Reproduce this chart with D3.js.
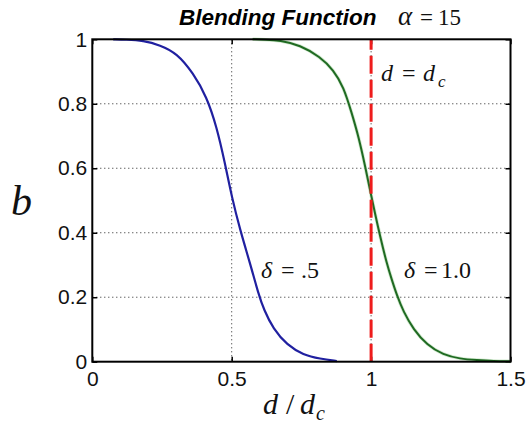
<!DOCTYPE html>
<html>
<head>
<meta charset="utf-8">
<script src="https://cdn.jsdelivr.net/npm/d3@7"></script>
<style>
  html, body { margin: 0; padding: 0; background: #fff; }
  svg { display: block; }
  .tick text { font-family: "Liberation Sans", Arial, sans-serif; font-size: 21px; fill: #111; }
  .serif { font-family: "Liberation Serif", "Times New Roman", serif; fill: #111; }
</style>
</head>
<body>
<script>
// Blending function b(d/dc) for two values of delta, alpha = 15
const blueX = [0.075, 0.12, 0.183, 0.243, 0.303, 0.362, 0.410, 0.446, 0.476, 0.500, 0.530, 0.566, 0.596, 0.616, 0.649, 0.698, 0.757, 0.817, 0.877];
const blueB = [1.000, 0.999, 0.996, 0.982, 0.957, 0.895, 0.822, 0.729, 0.615, 0.512, 0.409, 0.305, 0.210, 0.160, 0.102, 0.052, 0.021, 0.009, 0.002];

const greenX = [0.575, 0.62, 0.673, 0.745, 0.817, 0.865, 0.901, 0.931, 0.955, 0.979, 0.996, 1.014, 1.032, 1.056, 1.074, 1.092, 1.116, 1.152, 1.200, 1.259, 1.319, 1.379, 1.44, 1.5];
const greenB = [1.000, 0.999, 0.997, 0.982, 0.946, 0.905, 0.853, 0.770, 0.698, 0.605, 0.533, 0.460, 0.390, 0.305, 0.255, 0.207, 0.155, 0.100, 0.052, 0.021, 0.009, 0.005, 0.002, 0.001];

const xTicks = [0, 0.5, 1, 1.5];
const xTickLabels = ["0", "0.5", "1", "1.5"];
const yTicks = [0, 0.2, 0.4, 0.6, 0.8, 1];
const yTickLabels = ["0", "0.2", "0.4", "0.6", "0.8", "1"];
const cutoff = [1];           // d = dc
const yRange = [0, 1];

const W = 528, H = 426;
const m = { left: 92.3, top: 39.3, right: W - 510.5, bottom: H - 361.7 };
const iw = W - m.left - m.right, ih = H - m.top - m.bottom;

const svg = d3.select("body").append("svg").attr("width", W).attr("height", H);
const g = svg.append("g").attr("transform", `translate(${m.left},${m.top})`);

const x = d3.scaleLinear().domain([0, 1.5]).range([0, iw]);
const y = d3.scaleLinear().domain([0, 1]).range([ih, 0]);

// dotted grid
const grid = g.append("g").attr("stroke", "#222").attr("stroke-width", 1).attr("stroke-dasharray", "1,3");
grid.selectAll("line.gx").data(xTicks.slice(1, -1)).join("line")
  .attr("x1", d => x(d)).attr("x2", d => x(d)).attr("y1", 0).attr("y2", ih);
grid.selectAll("line.gy").data(yTicks.slice(1, -1)).join("line")
  .attr("x1", 0).attr("x2", iw).attr("y1", d => y(d)).attr("y2", d => y(d));

// axes with inward ticks
const xAxis = g.append("g").attr("transform", `translate(0,${ih})`)
  .call(d3.axisBottom(x).tickValues(xTicks).tickFormat((d, i) => xTickLabels[i]).tickSizeInner(-5).tickSizeOuter(0).tickPadding(9));
const xAxisTop = g.append("g")
  .call(d3.axisTop(x).tickValues(xTicks).tickFormat("").tickSizeInner(-5).tickSizeOuter(0));
const yAxis = g.append("g")
  .call(d3.axisLeft(y).tickValues(yTicks).tickFormat((d, i) => yTickLabels[i]).tickSizeInner(-5).tickSizeOuter(0).tickPadding(5));
const yAxisRight = g.append("g").attr("transform", `translate(${iw},0)`)
  .call(d3.axisRight(y).tickValues(yTicks).tickFormat("").tickSizeInner(-5).tickSizeOuter(0));
[xAxis, xAxisTop, yAxis, yAxisRight].forEach(a => {
  a.select(".domain").remove();
  a.selectAll(".tick line").attr("stroke", "#000").attr("stroke-width", 1.5);
});
xAxis.selectAll(".tick text").attr("dy", "0.71em");

const line = d3.line().x(d => x(d[0])).y(d => y(d[1])).curve(d3.curveBasis);

// curves
g.append("path").datum(d3.zip(greenX, greenB)).attr("d", line)
  .attr("fill", "none").attr("stroke", "#b5dcb0").attr("stroke-width", 3.5).attr("stroke-opacity", 0.6);
g.append("path").datum(d3.zip(greenX, greenB)).attr("d", line)
  .attr("fill", "none").attr("stroke", "#1f6a22").attr("stroke-width", 2);
g.append("path").datum(d3.zip(blueX, blueB)).attr("d", line)
  .attr("fill", "none").attr("stroke", "#2020a0").attr("stroke-width", 2.2);

// d = dc cutoff marker
g.selectAll("line.cut").data(cutoff).join("line")
  .attr("x1", d => x(d)).attr("x2", d => x(d))
  .attr("y1", y(yRange[0])).attr("y2", y(yRange[1]))
  .attr("stroke", "#ee1c1c").attr("stroke-width", 3).attr("stroke-dasharray", "18,6");

// frame
g.append("rect").attr("width", iw).attr("height", ih)
  .attr("fill", "none").attr("stroke", "#000").attr("stroke-width", 2);

// title
svg.append("text").attr("x", 179).attr("y", 25)
  .attr("font-family", "Liberation Sans, Arial, sans-serif").attr("font-size", 22.5)
  .attr("font-weight", "bold").attr("font-style", "italic").attr("fill", "#000")
  .text("Blending Function");
const t2 = svg.append("text").attr("class", "serif").attr("y", 25).attr("font-size", 23);
t2.append("tspan").attr("x", 398).attr("font-style", "italic").attr("font-size", 27).text("α");
t2.append("tspan").attr("x", 420).text("=");
t2.append("tspan").attr("x", 438).text("15");

// annotations
const a1 = svg.append("text").attr("class", "serif").attr("y", 80.7).attr("font-size", 24);
a1.append("tspan").attr("x", 381).attr("font-style", "italic").text("d");
a1.append("tspan").attr("x", 402).text("=");
a1.append("tspan").attr("x", 423).attr("font-style", "italic").text("d");
a1.append("tspan").attr("x", 438).attr("dy", 6).attr("font-size", 17).attr("font-style", "italic").text("c");

const a2 = svg.append("text").attr("class", "serif").attr("y", 278).attr("font-size", 24);
a2.append("tspan").attr("x", 261).attr("font-style", "italic").text("δ");
a2.append("tspan").attr("x", 281).text("=");
a2.append("tspan").attr("x", 301).text(".5");

const a3 = svg.append("text").attr("class", "serif").attr("y", 278).attr("font-size", 24);
a3.append("tspan").attr("x", 404).attr("font-style", "italic").text("δ");
a3.append("tspan").attr("x", 424).text("=");
a3.append("tspan").attr("x", 441).text("1.0");

// axis labels
svg.append("text").attr("class", "serif").attr("x", 11).attr("y", 215)
  .attr("font-size", 42).attr("font-style", "italic").text("b");
const xl = svg.append("text").attr("class", "serif").attr("y", 414).attr("font-size", 30);
xl.append("tspan").attr("x", 263).attr("font-style", "italic").text("d");
xl.append("tspan").attr("x", 286).text("/");
xl.append("tspan").attr("x", 300).attr("font-style", "italic").text("d");
xl.append("tspan").attr("x", 316).attr("dy", 6).attr("font-size", 20).attr("font-style", "italic").text("c");
</script>
</body>
</html>
